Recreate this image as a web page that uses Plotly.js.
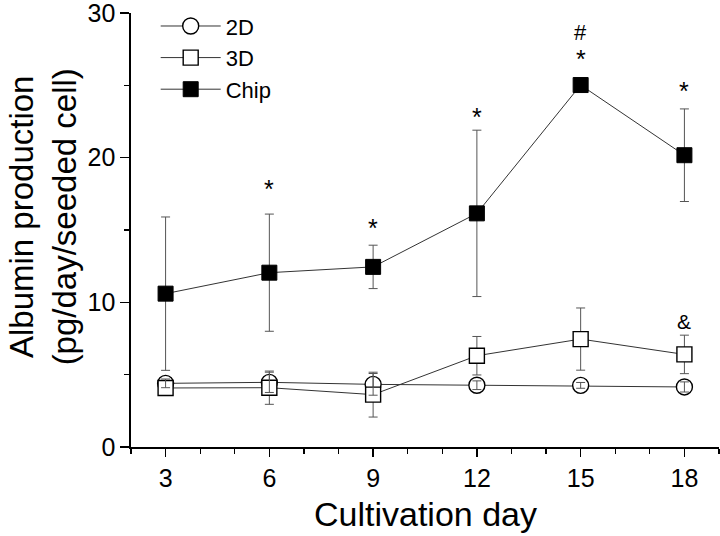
<!DOCTYPE html>
<html>
<head>
<meta charset="utf-8">
<script src="https://cdn.plot.ly/plotly-3.0.1.min.js"></script>
<style>html,body{margin:0;padding:0;background:#fff;}#chart{width:720px;height:536px;}</style>
</head>
<body>
<div id="chart"></div>
<script>
// ---- data ----
const days = [3, 6, 9, 12, 15, 18];
const val2D = [4.4, 4.47, 4.33, 4.27, 4.26, 4.15];
const err2D = [0.3, 0.7, 0.75, 0.3, 0.2, 0.35];
const val3D = [4.08, 4.1, 3.62, 6.31, 7.46, 6.4];
const err3D = [0.45, 1.15, 1.55, 1.33, 2.15, 1.33];
const valChip = [10.6, 12.05, 12.45, 16.15, 25.02, 20.17];
const errChip = [5.3, 4.05, 1.5, 5.75, 0.3, 3.2];

// significance labels (x day, label, y anchor in data units)
const sigX = [6, 9, 12, 15, 15, 18, 18];
const sigText = ['*', '*', '*', '*', '#', '*', '&'];
const sigY = [17.85, 15.15, 22.8, 26.85, 28.66, 24.6, 8.68];
const sigSize = [25, 25, 25, 25, 22, 25, 21];

const xTicks = [3, 6, 9, 12, 15, 18];
const yTicks = [0, 10, 20, 30];

const FONT = '"Liberation Sans", Arial, Helvetica, sans-serif';
const lineCol = '#333';
const errCol = '#555';

function err(arr) {
  return {type: 'data', array: arr, visible: true, color: errCol, thickness: 1, width: 4.5};
}

const traces = [
  { // 2D markers + line
    x: days, y: val2D, name: '2D', mode: 'lines+markers', legendgroup: 'a',
    line: {color: lineCol, width: 1},
    marker: {symbol: 'circle', size: 16, color: '#fff', line: {color: '#000', width: 1.4}}
  },
  { // 3D
    x: days, y: val3D, name: '3D', mode: 'lines+markers', legendgroup: 'b',
    error_y: err(err3D),
    line: {color: lineCol, width: 1},
    marker: {symbol: 'square', size: 15, color: '#fff', line: {color: '#000', width: 1.4}}
  },
  { // Chip
    x: days, y: valChip, name: 'Chip', mode: 'lines+markers', legendgroup: 'c',
    error_y: err(errChip),
    line: {color: lineCol, width: 1},
    marker: {symbol: 'square', size: 15, color: '#000', line: {color: '#000', width: 1}}
  },
  { // 2D error bars drawn on top of markers
    x: days, y: val2D, mode: 'none', showlegend: false, hoverinfo: 'skip',
    error_y: err(err2D)
  }
];

const annotations = sigX.map((x, i) => ({
  x: x, y: sigY[i], xref: 'x', yref: 'y', text: sigText[i], showarrow: false,
  xanchor: 'center', yanchor: 'middle',
  font: {family: FONT, size: sigSize[i], color: '#000'}
}));

// x axis title
annotations.push({
  xref: 'paper', yref: 'paper', x: 0.5, y: 0, yshift: -46, xanchor: 'center', yanchor: 'top',
  text: 'Cultivation day', showarrow: false,
  font: {family: FONT, size: 34, color: '#000'}
});
// y axis title
annotations.push({
  xref: 'paper', yref: 'paper', x: -0.149, y: 0.53, xanchor: 'center', yanchor: 'middle',
  textangle: -90, text: 'Albumin production<br>(pg/day/seeded cell)', showarrow: false,
  font: {family: FONT, size: 33, color: '#000'}
});

const layout = {
  width: 720, height: 536,
  margin: {l: 131, r: 1, t: 12.5, b: 88.5},
  paper_bgcolor: '#fff', plot_bgcolor: '#fff',
  font: {family: FONT, color: '#000'},
  showlegend: true,
  legend: {
    x: 0.042, y: 1.018, xanchor: 'left', yanchor: 'top',
    font: {family: FONT, size: 22, color: '#000'},
    bgcolor: 'rgba(0,0,0,0)', traceorder: 'grouped', tracegroupgap: 0,
    itemwidth: 60
  },
  xaxis: {
    range: [2, 19], showgrid: false, zeroline: false,
    showline: true, linecolor: '#000', linewidth: 1.6, mirror: false,
    tickmode: 'array', tickvals: xTicks, ticktext: xTicks.map(String),
    ticks: 'outside', ticklen: 8, tickwidth: 1.4, tickcolor: '#000',
    tickfont: {family: FONT, size: 25, color: '#000'}, ticklabeloverflow: 'allow',
    minor: {dtick: 1, tick0: 0, ticks: 'outside', ticklen: 5, tickwidth: 1.2, tickcolor: '#000', showgrid: false},
    title: {text: ''}
  },
  yaxis: {
    range: [0, 30], showgrid: false, zeroline: false,
    showline: true, linecolor: '#000', linewidth: 1.6,
    tickmode: 'array', tickvals: yTicks, ticktext: yTicks.map(String),
    ticks: 'outside', ticklen: 9, tickwidth: 1.4, tickcolor: '#000',
    tickfont: {family: FONT, size: 25, color: '#000'}, ticklabeloverflow: 'allow',
    minor: {dtick: 5, tick0: 0, ticks: 'outside', ticklen: 5, tickwidth: 1.2, tickcolor: '#000', showgrid: false},
    title: {text: ''}
  },
  annotations: annotations
};

Plotly.newPlot('chart', traces, layout, {displayModeBar: false, staticPlot: true});
</script>
</body>
</html>
